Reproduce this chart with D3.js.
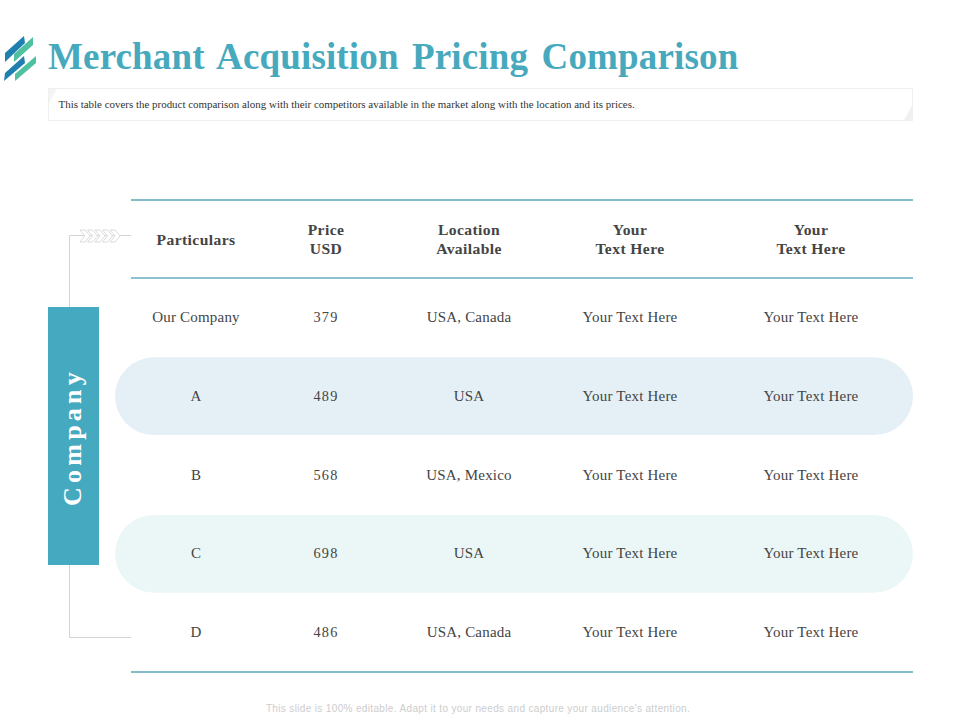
<!DOCTYPE html>
<html>
<head>
<meta charset="utf-8">
<script src="https://cdn.jsdelivr.net/npm/d3@7"></script>
<style>
  html, body { margin: 0; padding: 0; background: #fff; }
  svg { display: block; }
  text { font-family: "Liberation Serif", serif; }
</style>
</head>
<body>
<div id="chart"></div>
<script>
var titleText = "Merchant Acquisition Pricing Comparison"
var subtitleText = "This table covers the product comparison along with their competitors available in the market along with the location and its prices."
var footerText = "This slide is 100% editable. Adapt it to your needs and capture your audience's attention."
var sideLabel = "Company"

var columns = ["particulars", "price", "location", "text1", "text2"]
var headers = [["Particulars"], ["Price", "USD"], ["Location", "Available"], ["Your", "Text Here"], ["Your", "Text Here"]]
var companies = ["Our Company", "A", "B", "C", "D"]
var prices = [379, 489, 568, 698, 486]
var locations = ["USA, Canada", "USA", "USA, Mexico", "USA", "USA, Canada"]
var text1 = ["Your Text Here", "Your Text Here", "Your Text Here", "Your Text Here", "Your Text Here"]
var text2 = ["Your Text Here", "Your Text Here", "Your Text Here", "Your Text Here", "Your Text Here"]

var svg = d3.select("#chart").append("svg")
  .attr("width", 960)
  .attr("height", 720)

var x = d3.scaleOrdinal().domain(columns).range([196, 326, 469, 630, 811])
var y = d3.scaleBand().domain(companies).range([278, 672])

var ink = "#444444"
var teal = "#45a9bf"

//
// Logo stripes
//
var logo = svg.append("g")
logo.append("path").attr("fill", "#1f7fae").attr("d", "M5,53 L24,36 L25,43 L5,62 Z")
logo.append("path").attr("fill", "#4fc0a0").attr("d", "M14,54 L33,37 L33,45 L14,62 Z")
logo.append("path").attr("fill", "#1f7fae").attr("d", "M5,73 L24,56 L25,63 L4,81 Z")
logo.append("path").attr("fill", "#4fc0a0").attr("d", "M15,74 L36,56 L36,63 L15,81 Z")

//
// Title and subtitle box
//
svg.append("text")
  .attr("x", 48)
  .attr("y", 69)
  .attr("font-size", 37)
  .attr("font-weight", "bold")
  .attr("letter-spacing", 0.15)
  .attr("word-spacing", 4)
  .attr("fill", "#47a9bd")
  .text(titleText)

svg.append("rect")
  .attr("x", 48.5).attr("y", 88.5)
  .attr("width", 864).attr("height", 32)
  .attr("fill", "#fff")
  .attr("stroke", "#efefef")

svg.append("path").attr("fill", "#f0f0f0").attr("d", "M904,120 L912,120 L912,106 Z")
svg.append("path").attr("fill", "#f4f4f4").attr("d", "M49,89 L57,89 L49,103 Z")

svg.append("text")
  .attr("x", 58.5)
  .attr("y", 108)
  .attr("font-size", 10.95)
  .attr("fill", "#333")
  .text(subtitleText)

//
// Row bands
//
var bands = [
  { row: "A", fill: "#e5f0f6" },
  { row: "C", fill: "#ebf7f6" }
]
svg.selectAll("rect.band")
  .data(bands)
  .enter().append("rect")
  .attr("class", "band")
  .attr("x", 115)
  .attr("width", 798)
  .attr("y", d => y(d.row) + 0.5)
  .attr("height", y.bandwidth() - 1)
  .attr("rx", 39)
  .attr("fill", d => d.fill)

//
// Rules
//
var rules = [
  { y: 200, c: "#84bcc8", w: 2 },
  { y: y.range()[0], c: "#66aec2", w: 1.5 },
  { y: y.range()[1], c: "#84bcc8", w: 2 }
]
svg.selectAll("line.rule")
  .data(rules)
  .enter().append("line")
  .attr("class", "rule")
  .attr("x1", 131).attr("x2", 913)
  .attr("y1", d => d.y).attr("y2", d => d.y)
  .attr("stroke", d => d.c)
  .attr("stroke-width", d => d.w)

//
// Side bracket, chevrons and label
//
svg.append("path")
  .attr("fill", "none")
  .attr("stroke", "#d4d4d4")
  .attr("d", "M69.5,307 V235.5 H131 M69.5,565 V637.5 H131")

var chevrons = svg.append("g")
  .attr("fill", "#fff")
  .attr("stroke", "#dcdcdc")
d3.range(5).forEach(function (i) {
  var cx = 80 + i * 7.5
  chevrons.append("path")
    .attr("d", `M${cx},230 h5 l5,6 l-5,6 h-5 l5,-6 Z`)
})

svg.append("rect")
  .attr("x", 48).attr("y", 307)
  .attr("width", 51).attr("height", 258)
  .attr("fill", teal)

svg.append("text")
  .attr("transform", "translate(81,437) rotate(-90)")
  .attr("text-anchor", "middle")
  .attr("font-size", 26)
  .attr("font-weight", "bold")
  .attr("letter-spacing", 4.2)
  .attr("fill", "#fff")
  .text(sideLabel)

//
// Header cells
//
var headerCells = svg.selectAll("text.header")
  .data(columns)
  .enter().append("text")
  .attr("class", "header")
  .attr("text-anchor", "middle")
  .attr("font-size", 15.6)
  .attr("font-weight", "bold")
  .attr("letter-spacing", 0.4)
  .attr("fill", ink)

headerCells.each(function (col, i) {
  var lines = headers[i]
  d3.select(this).selectAll("tspan")
    .data(lines)
    .enter().append("tspan")
    .attr("x", x(col))
    .attr("y", (d, j) => lines.length == 1 ? 245 : 235 + j * 19)
    .text(d => d)
})

//
// Body cells
//
var rowValues = [companies, prices, locations, text1, text2]

columns.forEach(function (col, c) {
  svg.selectAll("text.cell-" + col)
    .data(rowValues[c])
    .enter().append("text")
    .attr("class", "cell-" + col)
    .attr("x", x(col))
    .attr("y", (d, i) => y(companies[i]) + y.bandwidth() / 2 + 4.5)
    .attr("text-anchor", "middle")
    .attr("font-size", col == "price" ? 14.3 : 15)
    .attr("letter-spacing", col == "price" ? 1.2 : 0.2)
    .attr("fill", ink)
    .text(d => d)
})

svg.append("text")
  .attr("x", 478)
  .attr("y", 712)
  .attr("text-anchor", "middle")
  .attr("font-size", 10)
  .attr("letter-spacing", 0.35)
  .attr("fill", "#cdcdcd")
  .style("font-family", "'Liberation Sans', sans-serif")
  .text(footerText)
</script>
</body>
</html>
